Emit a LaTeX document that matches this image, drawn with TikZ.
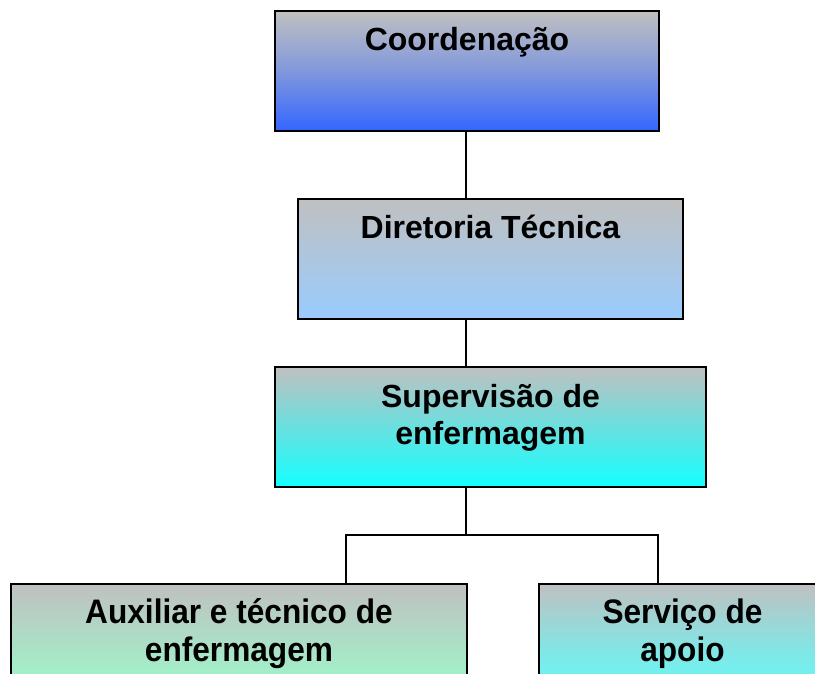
\documentclass[tikz,border=0pt]{standalone}
\usepackage{fontspec}
\setmainfont{Liberation Sans}
\usetikzlibrary{positioning}
\definecolor{topgray}{RGB}{192,192,192}
\definecolor{cBlue}{RGB}{51,102,255}
\definecolor{cLight}{RGB}{153,204,255}
\definecolor{cCyan}{RGB}{20,255,255}
\definecolor{cGreen}{RGB}{153,255,204}
\definecolor{cCyanL}{RGB}{90,255,255}
\begin{document}
\begin{tikzpicture}[x=1pt,y=-1pt,
  box/.style={draw=black,line width=2pt,rectangle,inner sep=0pt,anchor=north west},
  lbl/.style={font=\fontsize{32}{37}\selectfont\bfseries,align=center,anchor=base,inner sep=0pt},
  lbln/.style={font=\fontsize{34}{38}\selectfont\bfseries,align=center,anchor=base,inner sep=0pt},
  conn/.style={line width=2pt}]
\useasboundingbox (0,0) rectangle (815,674);
\begin{scope}
\clip (0,0) rectangle (815,674);
\node[box,minimum width=384,minimum height=120,top color=topgray,bottom color=cBlue,middle color=topgray!55!cBlue] (b1) at (274,10) {};
\node[box,minimum width=385,minimum height=120,top color=topgray,bottom color=cLight,middle color=topgray!50!cLight] (b2) at (297,198) {};
\node[box,minimum width=431,minimum height=120,top color=topgray,bottom color=cCyan,middle color=topgray!50!cCyan] (b3) at (274,366) {};
\node[box,minimum width=456,minimum height=120,top color=topgray,bottom color=cGreen,middle color=topgray!50!cGreen] (b4) at (10,583) {};
\node[box,minimum width=287,minimum height=120,top color=topgray,bottom color=cCyanL,middle color=topgray!45!cCyanL] (b5) at (538,583) {};
\end{scope}
\node[lbl] (t1) at ([yshift=-41]b1.north) {Coordenação};
\node[lbl] (t2) at ([yshift=-41]b2.north) {Diretoria Técnica};
\node[lbl] (t3) at ([yshift=-78]b3.north) {Supervisão de\\enfermagem};
\node[lbln] (t4) at ([yshift=-78]b4.north) {\scalebox{0.93}[1]{Auxiliar e técnico de}\\\scalebox{0.93}[1]{enfermagem}};
\node[lbln] (t5) at ([yshift=-78]b5.north) {\scalebox{0.93}[1]{Serviço de}\\\scalebox{0.93}[1]{apoio}};
\coordinate (c1) at (466,130);
\draw[conn] (b1.south -| c1) -- (b2.north -| c1);
\draw[conn] (b2.south -| c1) -- (b3.north -| c1);
\coordinate (split) at (466,535);
\coordinate (l) at (346,535);
\coordinate (r) at (658,535);
\draw[conn] (b3.south -| split) -- (split);
\draw[conn] (b4.north -| l) -- (l) -- (r) -- (b5.north -| r);
\end{tikzpicture}
\end{document}
